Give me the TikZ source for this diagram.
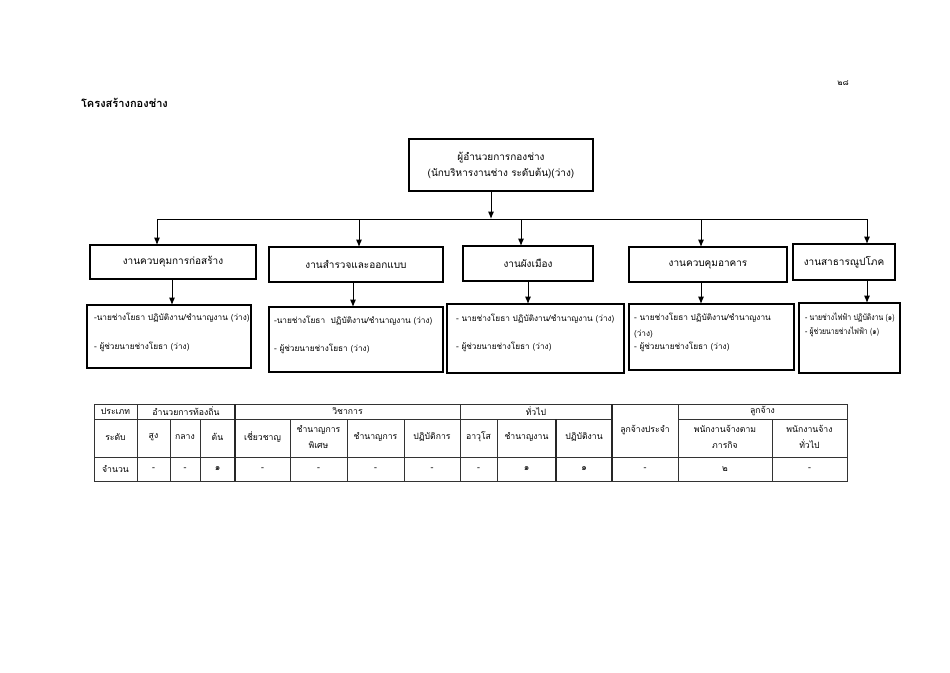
\documentclass[tikz,border=0pt]{standalone}
\usepackage{fontspec}
\newfontfamily\thaifont[Script=Thai]{Loma}
\newfontfamily\thaicond[Script=Thai,FakeStretch=0.82]{Loma}
\usetikzlibrary{arrows.meta}
\begin{document}
\begin{tikzpicture}[x=0.75pt,y=-0.75pt,
  every node/.style={inner sep=0pt,outer sep=0pt},
  unitbox/.style={draw,line width=0.8pt,font=\thaifont\fontsize{7.5}{12}\selectfont,align=center},
  detailbox/.style={draw,line width=0.8pt},
  dtext/.style={anchor=west,font=\thaifont\fontsize{6.2}{8}\selectfont},
  dcond/.style={anchor=west,font=\thaicond\fontsize{6.3}{8}\selectfont},
  ttext/.style={font=\thaifont\fontsize{6.5}{8}\selectfont,align=center},
  link/.style={line width=0.7pt},
  arr/.style={line width=0.7pt,-{Latex[length=5.5pt,width=4.5pt]}},
  tline/.style={line width=0.5pt,draw=black!80},
  tthick/.style={line width=0.9pt,draw=black!85}]
\useasboundingbox (0,0) rectangle (950,672);
% title and page number
\node[font=\thaifont\bfseries\fontsize{8.3}{10}\selectfont,anchor=west] (title) at (81,103) {โครงสร้างกองช่าง};
\node[font=\thaifont\fontsize{6}{8}\selectfont] (page) at (843,83) {๒๘};
% top box
\node[unitbox,minimum width=184*0.75pt,minimum height=52*0.75pt] (top) at (501,165) {ผู้อำนวยการกองช่าง\\(นักบริหารงานช่าง ระดับต้น)(ว่าง)};
% unit boxes
\node[unitbox,minimum width=166*0.75pt,minimum height=34*0.75pt] (b1) at (173,262) {งานควบคุมการก่อสร้าง};
\node[unitbox,minimum width=174*0.75pt,minimum height=35*0.75pt] (b2) at (356,264.5) {งานสำรวจและออกแบบ};
\node[unitbox,minimum width=130*0.75pt,minimum height=35*0.75pt] (b3) at (528,263.5) {งานผังเมือง};
\node[unitbox,minimum width=158*0.75pt,minimum height=35*0.75pt] (b4) at (708,264.5) {งานควบคุมอาคาร};
\node[unitbox,minimum width=102*0.75pt,minimum height=36*0.75pt] (b5) at (844,262) {งานสาธารณูปโภค};
% bus
\coordinate (busL) at (157,219);
\coordinate (busR) at (867,219);
\coordinate (busM) at (491,219);
\draw[link] (busL) -- (busR);
\draw[arr] (top.south -| busM) -- (busM);
\draw[arr] (busL) -- (b1.north -| busL);
\draw[arr] (359,219) -- (b2.north -| 359,0);
\draw[arr] (521,219) -- (b3.north -| 521,0);
\draw[arr] (701,219) -- (b4.north -| 701,0);
\draw[arr] (busR) -- (b5.north -| busR);
% detail boxes
\node[detailbox,minimum width=164*0.75pt,minimum height=63*0.75pt] (d1) at (169,336.5) {};
\node[detailbox,minimum width=174*0.75pt,minimum height=65*0.75pt] (d2) at (356,339.5) {};
\node[detailbox,minimum width=177*0.75pt,minimum height=69*0.75pt] (d3) at (535.5,338.5) {};
\node[detailbox,minimum width=165*0.75pt,minimum height=66*0.75pt] (d4) at (711.5,337) {};
\node[detailbox,minimum width=101*0.75pt,minimum height=70*0.75pt] (d5) at (849.5,338) {};
\draw[arr] (b1.south -| 172,0) -- (d1.north -| 172,0);
\draw[arr] (b2.south -| 353,0) -- (d2.north -| 353,0);
\draw[arr] (b3.south -| 528,0) -- (d3.north -| 528,0);
\draw[arr] (b4.south -| 701,0) -- (d4.north -| 701,0);
\draw[arr] (b5.south -| 867,0) -- (d5.north -| 867,0);
% detail texts
\node[dtext] (d1a) at (94,318) {-นายช่างโยธา ปฏิบัติงาน/ชำนาญงาน (ว่าง)};
\node[dtext] (d1b) at (94,347) {- ผู้ช่วยนายช่างโยธา (ว่าง)};
\node[dtext] (d2a) at (274,321) {-นายช่างโยธา\ \ ปฏิบัติงาน/ชำนาญงาน (ว่าง)};
\node[dtext] (d2b) at (274,349) {- ผู้ช่วยนายช่างโยธา (ว่าง)};
\node[dtext] (d3a) at (456,319) {- นายช่างโยธา ปฏิบัติงาน/ชำนาญงาน (ว่าง)};
\node[dtext] (d3b) at (456,347) {- ผู้ช่วยนายช่างโยธา (ว่าง)};
\node[dtext] (d4a) at (634,318) {- นายช่างโยธา ปฏิบัติงาน/ชำนาญงาน};
\node[dtext] (d4b) at (634,334) {(ว่าง)};
\node[dtext] (d4c) at (634,347) {- ผู้ช่วยนายช่างโยธา (ว่าง)};
\node[dcond] (d5a) at (805,318) {- นายช่างไฟฟ้า ปฏิบัติงาน (๑)};
\node[dcond] (d5b) at (805,332) {- ผู้ช่วยนายช่างไฟฟ้า (๑)};
% table grid
\draw[tline] (94,404) rectangle (847,481);
\draw[tline] (94,419) -- (612,419);
\draw[tline] (678,419) -- (847,419);
\draw[tline] (94,457) -- (847,457);
\foreach \x in {137,460,678} \draw[tline] (\x,404) -- (\x,481);
\foreach \x in {235,612} \draw[tthick] (\x,404) -- (\x,481);
\foreach \x in {170,200,290,347,404,497,772} \draw[tline] (\x,419) -- (\x,481);
\draw[tthick] (556,419) -- (556,481);
% header row 1
\node[ttext] (h1) at (115.5,411.5) {ประเภท};
\node[ttext] (h2) at (186,411.5) {อำนวยการท้องถิ่น};
\node[ttext] (h3) at (347.5,411.5) {วิชาการ};
\node[ttext] (h4) at (536,411.5) {ทั่วไป};
\node[ttext] (h5) at (645,430.5) {ลูกจ้างประจำ};
\node[ttext] (h6) at (762.5,411.5) {ลูกจ้าง};
% header row 2
\node[ttext] (r1) at (115.5,437) {ระดับ};
\node[ttext] (r2) at (153.5,437) {สูง};
\node[ttext] (r3) at (185,437) {กลาง};
\node[ttext] (r4) at (217.5,437) {ต้น};
\node[ttext] (r5) at (262.5,437) {เชี่ยวชาญ};
\node[ttext,font=\thaifont\fontsize{6.5}{12}\selectfont] (r6) at (318.5,437) {ชำนาญการ\\พิเศษ};
\node[ttext] (r7) at (375.5,437) {ชำนาญการ};
\node[ttext] (r8) at (432,437) {ปฏิบัติการ};
\node[ttext] (r9) at (478.5,437) {อาวุโส};
\node[ttext] (r10) at (526.5,437) {ชำนาญงาน};
\node[ttext] (r11) at (584,437) {ปฏิบัติงาน};
\node[ttext,font=\thaifont\fontsize{6.5}{12}\selectfont] (r12) at (725,437) {พนักงานจ้างตาม\\ภารกิจ};
\node[ttext,font=\thaifont\fontsize{6.5}{12}\selectfont] (r13) at (809.5,437) {พนักงานจ้าง\\ทั่วไป};
% row 3
\node[ttext] (v1) at (115.5,469) {จำนวน};
\node[ttext] (v2) at (153.5,469) {-};
\node[ttext] (v3) at (185,469) {-};
\node[ttext] (v4) at (217.5,469) {๑};
\node[ttext] (v5) at (262.5,469) {-};
\node[ttext] (v6) at (318.5,469) {-};
\node[ttext] (v7) at (375.5,469) {-};
\node[ttext] (v8) at (432,469) {-};
\node[ttext] (v9) at (478.5,469) {-};
\node[ttext] (v10) at (526.5,469) {๑};
\node[ttext] (v11) at (584,469) {๑};
\node[ttext] (v12) at (645,469) {-};
\node[ttext] (v13) at (725,469) {๒};
\node[ttext] (v14) at (809.5,469) {-};
\end{tikzpicture}
\end{document}
